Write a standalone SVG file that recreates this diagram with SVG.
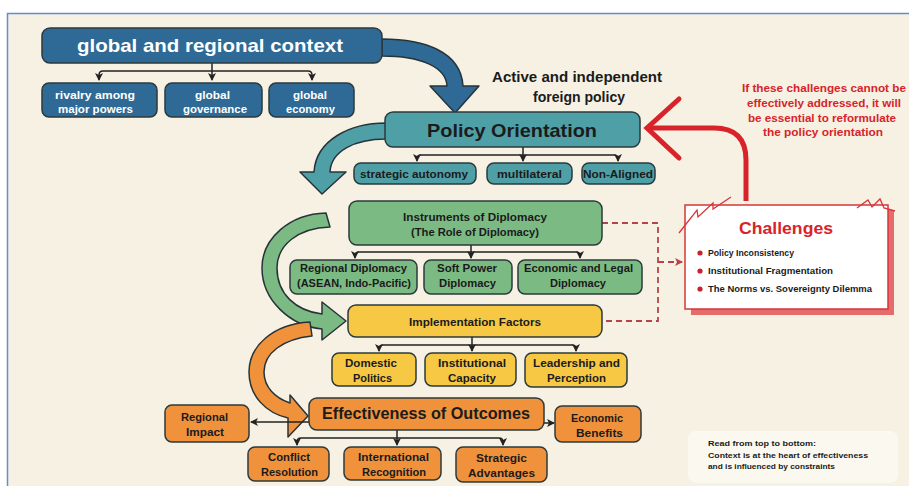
<svg xmlns="http://www.w3.org/2000/svg" width="909" height="486" viewBox="0 0 909 486">
<defs>
<style>
.bx{stroke:#2b3a3e;stroke-width:1.5}
.blue{fill:#2e6a95}
.teal{fill:#4f9fa6}
.green{fill:#7cba83}
.yellow{fill:#f6c843}
.orange{fill:#f0913b}
.t{font-family:"Liberation Sans",Arial,sans-serif;font-weight:bold;text-anchor:middle;fill:#1b1b1b}
.w{fill:#ffffff}
.s11{font-size:11px}
.s10{font-size:10.5px}
.conn{fill:none;stroke:#222;stroke-width:1.5}
.dash{fill:none;stroke:#b8424c;stroke-width:1.8;stroke-dasharray:6 4}
.big{stroke:#26343a;stroke-width:1.5;stroke-linejoin:round}
</style>
<marker id="ah" markerWidth="8" markerHeight="8" refX="7" refY="4" orient="auto" markerUnits="userSpaceOnUse">
<path d="M0,0 L8,4 L0,8 L2,4 Z" fill="#222"/>
</marker>
<marker id="rah" markerWidth="8" markerHeight="8" refX="7" refY="4" orient="auto" markerUnits="userSpaceOnUse">
<path d="M0,0 L8,4 L0,8 L2,4 Z" fill="#b8424c"/>
</marker>
</defs>

<rect x="0" y="0" width="909" height="486" fill="#ffffff"/>
<rect x="7.5" y="13.5" width="910" height="480" fill="#f6f1e2" stroke="#5b8fd6" stroke-width="1.5"/>

<!-- big curved flow arrows -->
<g id="flow-arrows">
<path class="big blue" d="M382,39 C425,39 461,52 463,86 L479,86 L455,113 L430,86 L447,86 C446,67 421,56 382,56 Z"/>
<path class="big teal" d="M386,123 C350,123 316,140 314,172 L300,172 L322,194 L346,172 L330,172 C331,151 355,139 386,139 Z"/>
<path class="big green" d="M326,213 C290,214 262,238 262,268 C262,300 290,326 322,329 L322,340 L346,321 L322,302 L322,314 C296,311 277,294 277,268 C277,245 298,228 330,227 Z"/>
<path class="big orange" d="M310,322 C273,324 249,346 249,372 C249,396 266,413 288,418 L288,437 L308,416 L290,395 L290,403 C275,398 264,387 264,372 C264,353 283,339 312,336 Z"/>
</g>

<!-- connectors -->
<g id="connectors">
<path class="conn" d="M212,63 V80" marker-end="url(#ah)"/>
<path class="conn" d="M212,71 H103 Q99,71 99,75 V80" marker-end="url(#ah)"/>
<path class="conn" d="M212,71 H308 Q312,71 312,75 V80" marker-end="url(#ah)"/>

<path class="conn" d="M523,147 V161" marker-end="url(#ah)"/>
<path class="conn" d="M523,155 H421 Q417,155 417,159 V161" marker-end="url(#ah)"/>
<path class="conn" d="M523,155 H614 Q618,155 618,159 V161" marker-end="url(#ah)"/>

<path class="conn" d="M471,245 V258" marker-end="url(#ah)"/>
<path class="conn" d="M471,252 H359 Q355,252 355,256 V258" marker-end="url(#ah)"/>
<path class="conn" d="M471,252 H576 Q580,252 580,256 V258" marker-end="url(#ah)"/>

<path class="conn" d="M472,337 V351" marker-end="url(#ah)"/>
<path class="conn" d="M472,345 H383 Q379,345 379,349 V351" marker-end="url(#ah)"/>
<path class="conn" d="M472,345 H572 Q576,345 576,349 V351" marker-end="url(#ah)"/>

<path class="conn" d="M397,430 V445" marker-end="url(#ah)"/>
<path class="conn" d="M397,438 H301 Q297,438 297,442 V445" marker-end="url(#ah)"/>
<path class="conn" d="M397,438 H499 Q503,438 503,442 V445" marker-end="url(#ah)"/>
<path class="conn" d="M310,422 H251" marker-end="url(#ah)"/>
<path class="conn" d="M544,423 H554" marker-end="url(#ah)"/>

<path class="dash" d="M602,223 H658 V321 H602"/>
<path class="dash" d="M658,262 H682" marker-end="url(#rah)"/>

<path d="M746,201 V160 Q746,128 714,128 H650" fill="none" stroke="#d8232a" stroke-width="5"/>
<path d="M679,99 L647,128 L679,158" fill="none" stroke="#d8232a" stroke-width="5" stroke-linecap="round" stroke-linejoin="miter"/>
</g>

<!-- context -->
<g id="global-context">
<rect class="bx blue" x="42" y="28" width="340" height="35" rx="8"/>
<text class="t w" x="210" y="52" font-size="19" textLength="266" lengthAdjust="spacingAndGlyphs">global and regional context</text>
</g>
<g id="rivalry">
<rect class="bx blue" x="42" y="83" width="115" height="34" rx="7"/>
<text class="t w s11" x="95" y="99" textLength="80" lengthAdjust="spacingAndGlyphs">rivalry among</text>
<text class="t w s11" x="95.5" y="113" textLength="75" lengthAdjust="spacingAndGlyphs">major powers</text>
</g>
<g id="governance">
<rect class="bx blue" x="165" y="83" width="97" height="34" rx="7"/>
<text class="t w s11" x="212.5" y="99" textLength="35" lengthAdjust="spacingAndGlyphs">global</text>
<text class="t w s11" x="215" y="113" textLength="64" lengthAdjust="spacingAndGlyphs">governance</text>
</g>
<g id="economy">
<rect class="bx blue" x="269" y="83" width="85" height="34" rx="7"/>
<text class="t w s11" x="310" y="99" textLength="34" lengthAdjust="spacingAndGlyphs">global</text>
<text class="t w s11" x="310.5" y="113" textLength="49" lengthAdjust="spacingAndGlyphs">economy</text>
</g>

<g id="active-label">
<text class="t" x="577" y="82" font-size="14" textLength="170" lengthAdjust="spacingAndGlyphs">Active and independent</text>
<text class="t" x="579" y="102" font-size="14" textLength="92" lengthAdjust="spacingAndGlyphs">foreign policy</text>
</g>

<!-- policy -->
<g id="policy-orientation">
<rect class="bx teal" x="385" y="112" width="255" height="35" rx="8"/>
<text class="t" x="512" y="137" font-size="19" textLength="170" lengthAdjust="spacingAndGlyphs">Policy Orientation</text>
</g>
<g id="strategic-autonomy">
<rect class="bx teal" x="354" y="163" width="122" height="21" rx="7"/>
<text class="t s11" x="414" y="178" textLength="108" lengthAdjust="spacingAndGlyphs">strategic autonomy</text>
</g>
<g id="multilateral">
<rect class="bx teal" x="487" y="163" width="85" height="21" rx="7"/>
<text class="t s11" x="529.5" y="178" textLength="65" lengthAdjust="spacingAndGlyphs">multilateral</text>
</g>
<g id="non-aligned">
<rect class="bx teal" x="582" y="163" width="73" height="21" rx="7"/>
<text class="t s11" x="618" y="178" textLength="70" lengthAdjust="spacingAndGlyphs">Non-Aligned</text>
</g>

<!-- instruments -->
<g id="instruments">
<rect class="bx green" x="349" y="201" width="253" height="44" rx="8"/>
<text class="t s10" x="475" y="221" textLength="144" lengthAdjust="spacingAndGlyphs">Instruments of Diplomacy</text>
<text class="t s10" x="475" y="236" textLength="128" lengthAdjust="spacingAndGlyphs">(The Role of Diplomacy)</text>
</g>
<g id="regional-diplomacy">
<rect class="bx green" x="290" y="260" width="127" height="34" rx="7"/>
<text class="t s11" x="353.5" y="272" textLength="107" lengthAdjust="spacingAndGlyphs">Regional Diplomacy</text>
<text class="t s11" x="354" y="287" textLength="114" lengthAdjust="spacingAndGlyphs">(ASEAN, Indo-Pacific)</text>
</g>
<g id="soft-power">
<rect class="bx green" x="424" y="260" width="88" height="34" rx="7"/>
<text class="t s11" x="467" y="272" textLength="60" lengthAdjust="spacingAndGlyphs">Soft Power</text>
<text class="t s11" x="467.5" y="287" textLength="57" lengthAdjust="spacingAndGlyphs">Diplomacy</text>
</g>
<g id="economic-legal">
<rect class="bx green" x="518" y="260" width="124" height="34" rx="7"/>
<text class="t s11" x="578.5" y="272" textLength="109" lengthAdjust="spacingAndGlyphs">Economic and Legal</text>
<text class="t s11" x="578" y="287" textLength="56" lengthAdjust="spacingAndGlyphs">Diplomacy</text>
</g>

<!-- implementation -->
<g id="implementation">
<rect class="bx yellow" x="348" y="305" width="254" height="32" rx="8"/>
<text class="t s11" x="475" y="326" textLength="132" lengthAdjust="spacingAndGlyphs">Implementation Factors</text>
</g>
<g id="domestic">
<rect class="bx yellow" x="332" y="353" width="84" height="33" rx="7"/>
<text class="t s11" x="371" y="367" textLength="52" lengthAdjust="spacingAndGlyphs">Domestic</text>
<text class="t s11" x="372.5" y="382" textLength="39" lengthAdjust="spacingAndGlyphs">Politics</text>
</g>
<g id="institutional">
<rect class="bx yellow" x="425" y="353" width="91" height="33" rx="7"/>
<text class="t s11" x="472" y="367" textLength="68" lengthAdjust="spacingAndGlyphs">Institutional</text>
<text class="t s11" x="472" y="382" textLength="48" lengthAdjust="spacingAndGlyphs">Capacity</text>
</g>
<g id="leadership">
<rect class="bx yellow" x="525" y="353" width="102" height="34" rx="7"/>
<text class="t s11" x="576.5" y="367" textLength="87" lengthAdjust="spacingAndGlyphs">Leadership and</text>
<text class="t s11" x="576.5" y="382" textLength="59" lengthAdjust="spacingAndGlyphs">Perception</text>
</g>

<!-- outcomes -->
<g id="effectiveness">
<rect class="bx orange" x="309" y="398" width="235" height="32" rx="8"/>
<text class="t" x="426" y="419" font-size="17" textLength="208" lengthAdjust="spacingAndGlyphs">Effectiveness of Outcomes</text>
</g>
<g id="regional-impact">
<rect class="bx orange" x="165" y="405" width="84" height="37" rx="7"/>
<text class="t s11" x="204.5" y="421" textLength="47" lengthAdjust="spacingAndGlyphs">Regional</text>
<text class="t s11" x="205" y="436" textLength="38" lengthAdjust="spacingAndGlyphs">Impact</text>
</g>
<g id="economic-benefits">
<rect class="bx orange" x="555" y="406" width="86" height="36" rx="7"/>
<text class="t s11" x="597" y="422" textLength="52" lengthAdjust="spacingAndGlyphs">Economic</text>
<text class="t s11" x="599.5" y="437" textLength="47" lengthAdjust="spacingAndGlyphs">Benefits</text>
</g>
<g id="conflict-resolution">
<rect class="bx orange" x="248" y="447" width="81" height="34" rx="7"/>
<text class="t s11" x="289" y="461" textLength="42" lengthAdjust="spacingAndGlyphs">Conflict</text>
<text class="t s11" x="289.5" y="476" textLength="57" lengthAdjust="spacingAndGlyphs">Resolution</text>
</g>
<g id="international-recognition">
<rect class="bx orange" x="344" y="447" width="97" height="33" rx="7"/>
<text class="t s11" x="393.5" y="461" textLength="71" lengthAdjust="spacingAndGlyphs">International</text>
<text class="t s11" x="394" y="476" textLength="64" lengthAdjust="spacingAndGlyphs">Recognition</text>
</g>
<g id="strategic-advantages">
<rect class="bx orange" x="456" y="447" width="91" height="35" rx="7"/>
<text class="t s11" x="501.5" y="462" textLength="51" lengthAdjust="spacingAndGlyphs">Strategic</text>
<text class="t s11" x="501.5" y="477" textLength="67" lengthAdjust="spacingAndGlyphs">Advantages</text>
</g>

<!-- challenges -->
<g id="challenges">
<rect x="691" y="210" width="203" height="105" fill="#e66b6b"/>
<rect x="685" y="205" width="203" height="104" fill="#ffffff" stroke="#d8363b" stroke-width="1.5"/>
<polyline points="679,233 697,210 698,217 713,203 713,209 731,197" fill="none" stroke="#d8363b" stroke-width="1.3"/>
<polyline points="857,208 868,200 872,207 880,199 884,208 895,211" fill="none" stroke="#d8363b" stroke-width="1.3"/>
<text class="t" x="786" y="234" font-size="17" fill="#d8232a" style="fill:#d8232a" textLength="94" lengthAdjust="spacingAndGlyphs">Challenges</text>
<circle cx="700" cy="253" r="2.6" fill="#c8232a"/>
<circle cx="700" cy="271" r="2.6" fill="#c8232a"/>
<circle cx="700" cy="289" r="2.6" fill="#c8232a"/>
<text class="t" x="708" y="256" font-size="8.5" style="text-anchor:start" textLength="86" lengthAdjust="spacingAndGlyphs">Policy Inconsistency</text>
<text class="t" x="708" y="274" font-size="8.5" style="text-anchor:start" textLength="125" lengthAdjust="spacingAndGlyphs">Institutional Fragmentation</text>
<text class="t" x="708" y="292" font-size="8.5" style="text-anchor:start" textLength="164" lengthAdjust="spacingAndGlyphs">The Norms vs. Sovereignty Dilemma</text>
</g>

<g id="warning-note">
<text class="t" x="824" y="92" font-size="11" style="fill:#d8232a" textLength="164" lengthAdjust="spacingAndGlyphs">If these challenges cannot be</text>
<text class="t" x="824" y="107" font-size="11" style="fill:#d8232a" textLength="154" lengthAdjust="spacingAndGlyphs">effectively addressed, it will</text>
<text class="t" x="822" y="122" font-size="11" style="fill:#d8232a" textLength="148" lengthAdjust="spacingAndGlyphs">be essential to reformulate</text>
<text class="t" x="823" y="136" font-size="11" style="fill:#d8232a" textLength="120" lengthAdjust="spacingAndGlyphs">the policy orientation</text>
</g>

<g id="reading-note">
<rect x="688" y="431" width="210" height="52" rx="8" fill="#fbf8f0"/>
<text class="t" x="708" y="446" font-size="8" style="text-anchor:start" textLength="108" lengthAdjust="spacingAndGlyphs">Read from top to bottom:</text>
<text class="t" x="708" y="458" font-size="8" style="text-anchor:start" textLength="160" lengthAdjust="spacingAndGlyphs">Context is at the heart of effectiveness</text>
<text class="t" x="708" y="469" font-size="8" style="text-anchor:start" textLength="127" lengthAdjust="spacingAndGlyphs">and is influenced by constraints</text>
</g>
</svg>
